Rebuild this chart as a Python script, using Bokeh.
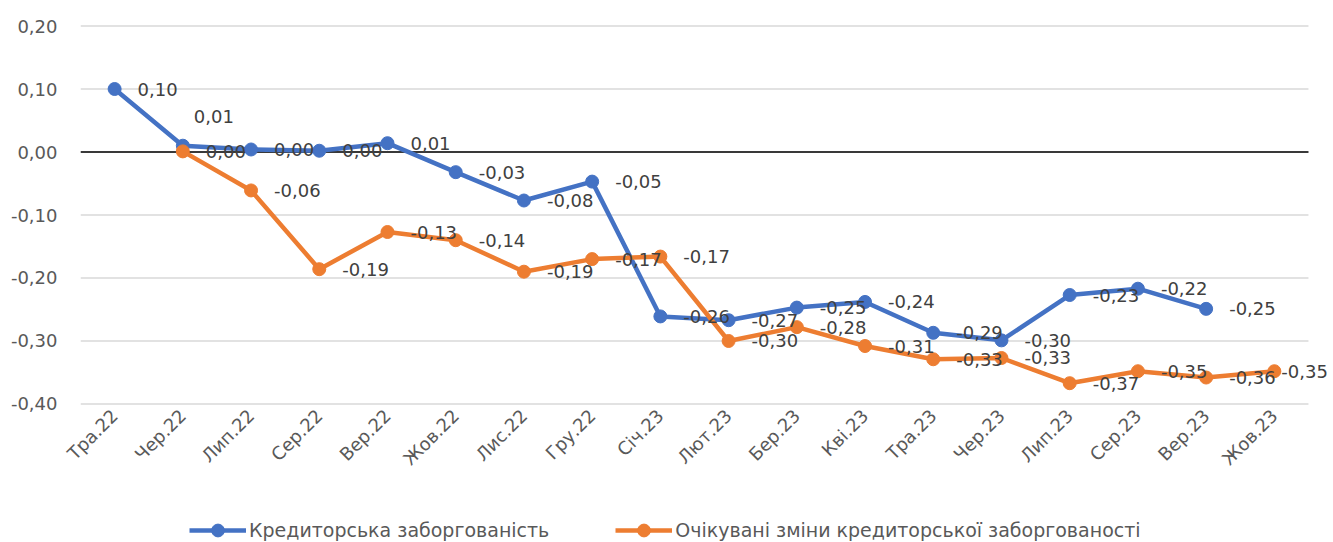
import numpy as np
from bokeh.plotting import figure
from bokeh.layouts import column
from bokeh.models import (ColumnDataSource, Range1d, FixedTicker,
                          CustomJSTickFormatter, Legend, LegendItem)
from bokeh.core.properties import value
from bokeh.embed import file_html
from bokeh.resources import INLINE

NaN = float("nan")

months = ["Тра.22", "Чер.22", "Лип.22", "Сер.22", "Вер.22", "Жов.22", "Лис.22",
          "Гру.22", "Січ.23", "Лют.23", "Бер.23", "Кві.23", "Тра.23", "Чер.23",
          "Лип.23", "Сер.23", "Вер.23", "Жов.23"]

payables = [0.10, 0.01, 0.004, 0.002, 0.014, -0.032, -0.077, -0.047, -0.261,
            -0.267, -0.247, -0.238, -0.287, -0.299, -0.227, -0.217, -0.249, NaN]

expected = [NaN, 0.001, -0.061, -0.186, -0.127, -0.14, -0.19, -0.17, -0.166,
            -0.30, -0.278, -0.308, -0.329, -0.327, -0.367, -0.348, -0.358, -0.348]

series_names = ["Кредиторська заборгованість",
                "Очікувані зміни кредиторської заборгованості"]
y_ticks = [-0.4, -0.3, -0.2, -0.1, 0.0, 0.1, 0.2]

BLUE = "#4472C4"
ORANGE = "#ED7D31"
FONT = "DejaVu Sans"
FS = "18px"

n = len(months)
xs = list(range(n))
left_edge, right_edge = -0.5, n - 0.5

p = figure(width=1333, height=490, x_range=Range1d(left_edge, right_edge + 0.367),
           y_range=Range1d(-0.404, 0.204), output_backend="svg", toolbar_location=None,
           min_border_left=80, min_border_right=0, min_border_top=23,
           min_border_bottom=84)
p.outline_line_color = None
p.background_fill_color = "white"
p.border_fill_color = "white"
p.xgrid.grid_line_color = None
p.ygrid.grid_line_color = None

# horizontal gridlines over the category bands only
p.segment(x0=[left_edge] * len(y_ticks), x1=[right_edge] * len(y_ticks),
          y0=y_ticks, y1=y_ticks, line_color="#d9d9d9", line_width=1.5)
# zero line
p.segment(x0=[left_edge], x1=[right_edge], y0=[0.0], y1=[0.0],
          line_color="black", line_width=1.5)

# axes
p.yaxis.ticker = FixedTicker(ticks=y_ticks)
p.yaxis.formatter = CustomJSTickFormatter(code="return tick.toFixed(2).replace('.', ',');")
p.yaxis.axis_line_color = None
p.yaxis.major_tick_line_color = None
p.yaxis.major_tick_out = 0
p.yaxis.major_tick_in = 0
p.yaxis.minor_tick_line_color = None
p.yaxis.major_label_standoff = 23
p.yaxis.major_label_text_font = FONT
p.yaxis.major_label_text_font_size = FS
p.yaxis.major_label_text_color = "#595959"

p.xaxis.ticker = FixedTicker(ticks=xs)
p.xaxis.major_label_overrides = {i: m for i, m in enumerate(months)}
p.xaxis.axis_line_color = None
p.xaxis.major_tick_line_color = None
p.xaxis.major_tick_out = 0
p.xaxis.major_tick_in = 0
p.xaxis.minor_tick_line_color = None
p.xaxis.major_label_orientation = np.pi / 4
p.xaxis.major_label_standoff = 6
p.xaxis.major_label_text_font = FONT
p.xaxis.major_label_text_font_size = FS
p.xaxis.major_label_text_color = "#595959"

src_b = ColumnDataSource(dict(x=xs, y=np.array(payables, dtype=float)))
src_o = ColumnDataSource(dict(x=xs, y=np.array(expected, dtype=float)))

p.line("x", "y", source=src_b, line_color=BLUE, line_width=4.5)
p.scatter("x", "y", source=src_b, size=13, fill_color=BLUE, line_color=BLUE)
p.line("x", "y", source=src_o, line_color=ORANGE, line_width=4.5)
p.scatter("x", "y", source=src_o, size=13, fill_color=ORANGE, line_color=ORANGE)


def fmt(v):
    s = f"{v:.2f}".replace(".", ",")
    if s == "-0,00":
        s = "0,00"
    return s


# data labels (right of point); a couple of labels nudged as in the original
nudge = {("b", 1): (11, -29), ("o", n - 1): (7, 0)}
lx, ly, lt, xo, yo = [], [], [], [], []
for key, vals in (("b", payables), ("o", expected)):
    for i, v in enumerate(vals):
        if np.isnan(v):
            continue
        dx, dy = nudge.get((key, i), (23, 0))
        lx.append(i); ly.append(v); lt.append(fmt(v)); xo.append(dx); yo.append(dy)

lsrc = ColumnDataSource(dict(x=lx, y=ly, t=lt, xo=xo, yo=yo))
p.text(x="x", y="y", text="t", source=lsrc, x_offset="xo", y_offset="yo",
       text_font=value(FONT), text_font_size=FS, text_color="#404040",
       text_align="left", text_baseline="middle")

# legend strip below the chart
q = figure(width=1333, height=52, x_range=Range1d(0, 1), y_range=Range1d(100, 101),
           output_backend="svg", toolbar_location=None, x_axis_type=None,
           y_axis_type=None, min_border_left=80, min_border_right=0,
           min_border_top=0, min_border_bottom=0)
q.outline_line_color = None
q.grid.grid_line_color = None
q.border_fill_color = "white"
qlb = q.line("x", "y", source=src_b, line_color=BLUE, line_width=4.5)
qsb = q.scatter("x", "y", source=src_b, size=13, fill_color=BLUE, line_color=BLUE)
qlo = q.line("x", "y", source=src_o, line_color=ORANGE, line_width=4.5)
qso = q.scatter("x", "y", source=src_o, size=13, fill_color=ORANGE, line_color=ORANGE)

legend = Legend(items=[LegendItem(label=series_names[0], renderers=[qlb, qsb]),
                       LegendItem(label=series_names[1], renderers=[qlo, qso])],
                orientation="horizontal", location=(109, -4))
legend.border_line_color = None
legend.background_fill_alpha = 0
legend.padding = 0
legend.margin = 0
legend.spacing = 66
legend.glyph_width = 57
legend.glyph_height = 32
legend.label_standoff = 3
legend.label_text_font = FONT
legend.label_text_font_size = "19px"
legend.label_text_color = "#595959"
q.add_layout(legend, "center")

layout = column(p, q, spacing=0)
open("out.html", "w").write(file_html(layout, INLINE))
